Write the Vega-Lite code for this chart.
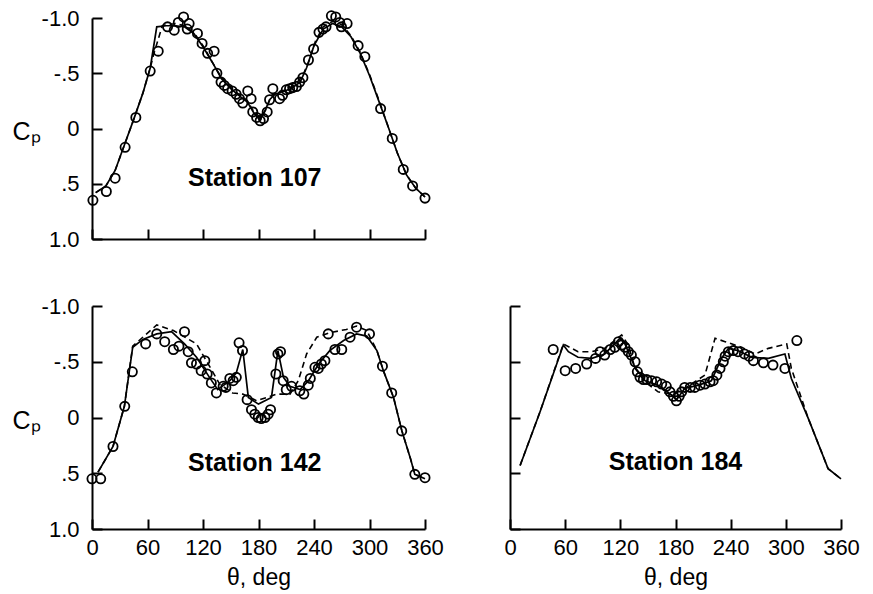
{
"$schema":"https://vega.github.io/schema/vega-lite/v6.json",
"padding":{"left":11,"top":7,"right":20,"bottom":2},
"bounds":"flush",
"spacing":67,
"config":{"view":{"stroke":null},"font":"Liberation Sans",
 "axis":{"grid":false,"domainColor":"black","domainWidth":2,"tickColor":"black","tickWidth":2,"labelColor":"black","labelFontSize":22,"labelFont":"Liberation Sans","titleFont":"Liberation Sans","titleFontWeight":"normal","titleColor":"black","titleFontSize":23}},
"datasets":{
"exp107":[{"theta":1,"cp":0.65},{"theta":15.5,"cp":0.57},{"theta":25,"cp":0.45},{"theta":35.8,"cp":0.17},{"theta":47.4,"cp":-0.1},{"theta":62.9,"cp":-0.52},{"theta":71.6,"cp":-0.7},{"theta":81.7,"cp":-0.92},{"theta":88.9,"cp":-0.89},{"theta":93.3,"cp":-0.96},{"theta":99,"cp":-1.01},{"theta":103,"cp":-0.9},{"theta":105,"cp":-0.95},{"theta":114,"cp":-0.86},{"theta":119,"cp":-0.77},{"theta":125,"cp":-0.68},{"theta":132,"cp":-0.7},{"theta":135,"cp":-0.5},{"theta":139.5,"cp":-0.42},{"theta":143,"cp":-0.39},{"theta":146.7,"cp":-0.36},{"theta":151.5,"cp":-0.34},{"theta":155.8,"cp":-0.31},{"theta":159.4,"cp":-0.27},{"theta":163,"cp":-0.23},{"theta":168.4,"cp":-0.34},{"theta":172,"cp":-0.27},{"theta":173.8,"cp":-0.15},{"theta":178,"cp":-0.1},{"theta":181.8,"cp":-0.07},{"theta":185.4,"cp":-0.09},{"theta":189.4,"cp":-0.15},{"theta":192,"cp":-0.26},{"theta":195.5,"cp":-0.36},{"theta":202.8,"cp":-0.27},{"theta":206,"cp":-0.3},{"theta":210,"cp":-0.35},{"theta":213.6,"cp":-0.36},{"theta":217,"cp":-0.37},{"theta":221,"cp":-0.38},{"theta":224.5,"cp":-0.42},{"theta":228,"cp":-0.46},{"theta":234,"cp":-0.62},{"theta":239.6,"cp":-0.72},{"theta":245.4,"cp":-0.87},{"theta":249.7,"cp":-0.9},{"theta":253,"cp":-0.92},{"theta":258.8,"cp":-1.02},{"theta":263.5,"cp":-1.01},{"theta":267.8,"cp":-0.96},{"theta":269.7,"cp":-0.92},{"theta":275.8,"cp":-0.95},{"theta":287.7,"cp":-0.75},{"theta":295,"cp":-0.65},{"theta":312,"cp":-0.18},{"theta":324.6,"cp":0.09},{"theta":336.5,"cp":0.37},{"theta":346.6,"cp":0.52},{"theta":360,"cp":0.63}],
"sol107":[{"theta":4,"cp":0.58},{"theta":15,"cp":0.52},{"theta":25,"cp":0.38},{"theta":35,"cp":0.15},{"theta":45,"cp":-0.08},{"theta":55,"cp":-0.32},{"theta":63,"cp":-0.55},{"theta":70,"cp":-0.92},{"theta":80,"cp":-0.93},{"theta":90,"cp":-0.93},{"theta":100,"cp":-0.92},{"theta":110,"cp":-0.86},{"theta":120,"cp":-0.74},{"theta":130,"cp":-0.6},{"theta":140,"cp":-0.45},{"theta":150,"cp":-0.36},{"theta":160,"cp":-0.29},{"theta":168,"cp":-0.24},{"theta":175,"cp":-0.14},{"theta":181,"cp":-0.08},{"theta":186,"cp":-0.14},{"theta":192,"cp":-0.26},{"theta":198,"cp":-0.31},{"theta":205,"cp":-0.33},{"theta":215,"cp":-0.36},{"theta":225,"cp":-0.42},{"theta":232,"cp":-0.55},{"theta":240,"cp":-0.75},{"theta":250,"cp":-0.9},{"theta":260,"cp":-0.95},{"theta":270,"cp":-0.92},{"theta":280,"cp":-0.83},{"theta":290,"cp":-0.68},{"theta":300,"cp":-0.48},{"theta":310,"cp":-0.25},{"theta":320,"cp":-0.02},{"theta":330,"cp":0.22},{"theta":340,"cp":0.42},{"theta":350,"cp":0.54},{"theta":360,"cp":0.62}],
"das107":[{"theta":4,"cp":0.58},{"theta":15,"cp":0.52},{"theta":25,"cp":0.38},{"theta":35,"cp":0.15},{"theta":45,"cp":-0.08},{"theta":55,"cp":-0.32},{"theta":63,"cp":-0.55},{"theta":67,"cp":-0.68},{"theta":76,"cp":-0.93},{"theta":90,"cp":-0.95},{"theta":100,"cp":-0.93},{"theta":110,"cp":-0.87},{"theta":120,"cp":-0.75},{"theta":130,"cp":-0.6},{"theta":140,"cp":-0.46},{"theta":150,"cp":-0.37},{"theta":160,"cp":-0.3},{"theta":168,"cp":-0.25},{"theta":175,"cp":-0.15},{"theta":182,"cp":-0.1},{"theta":188,"cp":-0.17},{"theta":194,"cp":-0.3},{"theta":200,"cp":-0.33},{"theta":210,"cp":-0.35},{"theta":220,"cp":-0.4},{"theta":228,"cp":-0.48},{"theta":235,"cp":-0.62},{"theta":242,"cp":-0.8},{"theta":250,"cp":-0.92},{"theta":260,"cp":-0.97},{"theta":270,"cp":-0.94},{"theta":280,"cp":-0.84},{"theta":290,"cp":-0.69},{"theta":300,"cp":-0.49},{"theta":310,"cp":-0.26},{"theta":320,"cp":-0.02},{"theta":330,"cp":0.22},{"theta":340,"cp":0.42},{"theta":350,"cp":0.54},{"theta":360,"cp":0.62}],
"exp142":[{"theta":0,"cp":0.55},{"theta":9.4,"cp":0.55},{"theta":22.7,"cp":0.26},{"theta":35.4,"cp":-0.1},{"theta":43.6,"cp":-0.41},{"theta":58,"cp":-0.66},{"theta":70,"cp":-0.75},{"theta":78.6,"cp":-0.68},{"theta":88,"cp":-0.61},{"theta":94,"cp":-0.64},{"theta":100,"cp":-0.77},{"theta":104,"cp":-0.59},{"theta":107.5,"cp":-0.49},{"theta":113,"cp":-0.48},{"theta":118,"cp":-0.42},{"theta":122,"cp":-0.51},{"theta":124.5,"cp":-0.39},{"theta":129,"cp":-0.31},{"theta":134.5,"cp":-0.22},{"theta":141.8,"cp":-0.28},{"theta":144.7,"cp":-0.27},{"theta":149,"cp":-0.35},{"theta":152.6,"cp":-0.33},{"theta":156,"cp":-0.36},{"theta":159,"cp":-0.67},{"theta":162.7,"cp":-0.6},{"theta":167.7,"cp":-0.16},{"theta":172.4,"cp":-0.07},{"theta":176,"cp":-0.03},{"theta":179.7,"cp":0},{"theta":183,"cp":0.01},{"theta":187,"cp":0},{"theta":190.5,"cp":-0.03},{"theta":193,"cp":-0.07},{"theta":198.8,"cp":-0.39},{"theta":201,"cp":-0.57},{"theta":203.8,"cp":-0.59},{"theta":206.7,"cp":-0.33},{"theta":210,"cp":-0.25},{"theta":215.7,"cp":-0.28},{"theta":224.7,"cp":-0.24},{"theta":229,"cp":-0.21},{"theta":233.8,"cp":-0.29},{"theta":236,"cp":-0.35},{"theta":241,"cp":-0.45},{"theta":244.6,"cp":-0.44},{"theta":248,"cp":-0.48},{"theta":251.8,"cp":-0.51},{"theta":255.4,"cp":-0.75},{"theta":262.6,"cp":-0.61},{"theta":270,"cp":-0.61},{"theta":279,"cp":-0.72},{"theta":286,"cp":-0.81},{"theta":300,"cp":-0.75},{"theta":314,"cp":-0.46},{"theta":324,"cp":-0.22},{"theta":334.8,"cp":0.12},{"theta":349,"cp":0.51},{"theta":360,"cp":0.54}],
"sol142":[{"theta":6.5,"cp":0.49},{"theta":22.7,"cp":0.26},{"theta":35,"cp":-0.1},{"theta":44,"cp":-0.63},{"theta":55,"cp":-0.7},{"theta":70,"cp":-0.75},{"theta":86,"cp":-0.77},{"theta":100,"cp":-0.66},{"theta":113,"cp":-0.54},{"theta":127,"cp":-0.36},{"theta":136,"cp":-0.25},{"theta":149,"cp":-0.33},{"theta":156,"cp":-0.4},{"theta":163,"cp":-0.61},{"theta":169,"cp":-0.18},{"theta":180,"cp":-0.12},{"theta":187,"cp":-0.15},{"theta":194,"cp":-0.18},{"theta":201,"cp":-0.6},{"theta":207,"cp":-0.36},{"theta":214,"cp":-0.28},{"theta":225,"cp":-0.25},{"theta":234,"cp":-0.33},{"theta":245,"cp":-0.48},{"theta":257,"cp":-0.6},{"theta":272,"cp":-0.69},{"theta":286,"cp":-0.75},{"theta":297,"cp":-0.73},{"theta":308,"cp":-0.6},{"theta":315,"cp":-0.42},{"theta":326,"cp":-0.18},{"theta":335,"cp":0.12},{"theta":344,"cp":0.36},{"theta":349,"cp":0.51},{"theta":360,"cp":0.55}],
"das142":[{"theta":6.5,"cp":0.49},{"theta":22.7,"cp":0.26},{"theta":35,"cp":-0.1},{"theta":44,"cp":-0.64},{"theta":70,"cp":-0.83},{"theta":88,"cp":-0.78},{"theta":113,"cp":-0.66},{"theta":127,"cp":-0.46},{"theta":138,"cp":-0.3},{"theta":152,"cp":-0.22},{"theta":163,"cp":-0.21},{"theta":178,"cp":-0.15},{"theta":189,"cp":-0.18},{"theta":200,"cp":-0.21},{"theta":214,"cp":-0.21},{"theta":223,"cp":-0.33},{"theta":232,"cp":-0.57},{"theta":243,"cp":-0.72},{"theta":257,"cp":-0.76},{"theta":275,"cp":-0.79},{"theta":286,"cp":-0.82},{"theta":297,"cp":-0.78},{"theta":308,"cp":-0.6},{"theta":315,"cp":-0.42},{"theta":326,"cp":-0.18},{"theta":335,"cp":0.12},{"theta":344,"cp":0.36},{"theta":349,"cp":0.51},{"theta":360,"cp":0.55}],
"exp184":[{"theta":47,"cp":-0.61},{"theta":60,"cp":-0.42},{"theta":71.4,"cp":-0.44},{"theta":83.4,"cp":-0.48},{"theta":93,"cp":-0.53},{"theta":98,"cp":-0.59},{"theta":103,"cp":-0.56},{"theta":109,"cp":-0.61},{"theta":114,"cp":-0.63},{"theta":118,"cp":-0.68},{"theta":121.5,"cp":-0.65},{"theta":125,"cp":-0.63},{"theta":128.7,"cp":-0.59},{"theta":132,"cp":-0.56},{"theta":136,"cp":-0.5},{"theta":138.5,"cp":-0.41},{"theta":141.4,"cp":-0.36},{"theta":145,"cp":-0.34},{"theta":148.7,"cp":-0.34},{"theta":154,"cp":-0.33},{"theta":159.5,"cp":-0.32},{"theta":165,"cp":-0.3},{"theta":170,"cp":-0.28},{"theta":174,"cp":-0.23},{"theta":177.7,"cp":-0.19},{"theta":181,"cp":-0.15},{"theta":184,"cp":-0.19},{"theta":186.7,"cp":-0.23},{"theta":190,"cp":-0.27},{"theta":196,"cp":-0.27},{"theta":201,"cp":-0.27},{"theta":206.7,"cp":-0.29},{"theta":212,"cp":-0.3},{"theta":217.5,"cp":-0.32},{"theta":221,"cp":-0.33},{"theta":225,"cp":-0.38},{"theta":228.4,"cp":-0.44},{"theta":232,"cp":-0.5},{"theta":234,"cp":-0.55},{"theta":237.5,"cp":-0.59},{"theta":243,"cp":-0.6},{"theta":248,"cp":-0.59},{"theta":255,"cp":-0.57},{"theta":260,"cp":-0.55},{"theta":264.7,"cp":-0.51},{"theta":275.6,"cp":-0.49},{"theta":286,"cp":-0.47},{"theta":299,"cp":-0.44},{"theta":312,"cp":-0.69}],
"sol184":[{"theta":11,"cp":0.43},{"theta":32.6,"cp":-0.05},{"theta":58,"cp":-0.65},{"theta":63.5,"cp":-0.59},{"theta":74,"cp":-0.54},{"theta":89,"cp":-0.53},{"theta":103,"cp":-0.57},{"theta":119.6,"cp":-0.71},{"theta":125,"cp":-0.66},{"theta":136,"cp":-0.45},{"theta":147,"cp":-0.33},{"theta":161,"cp":-0.29},{"theta":176,"cp":-0.2},{"theta":181,"cp":-0.16},{"theta":190,"cp":-0.26},{"theta":205,"cp":-0.29},{"theta":219,"cp":-0.33},{"theta":230,"cp":-0.53},{"theta":237.5,"cp":-0.62},{"theta":248,"cp":-0.6},{"theta":263,"cp":-0.54},{"theta":281,"cp":-0.53},{"theta":299,"cp":-0.57},{"theta":306,"cp":-0.35},{"theta":324.5,"cp":0.01},{"theta":346,"cp":0.46},{"theta":360,"cp":0.55}],
"das184":[{"theta":11,"cp":0.43},{"theta":32.6,"cp":-0.05},{"theta":58,"cp":-0.66},{"theta":74,"cp":-0.59},{"theta":89,"cp":-0.59},{"theta":103,"cp":-0.62},{"theta":121.5,"cp":-0.74},{"theta":128.7,"cp":-0.65},{"theta":136,"cp":-0.44},{"theta":147,"cp":-0.32},{"theta":161,"cp":-0.23},{"theta":176,"cp":-0.21},{"theta":190,"cp":-0.26},{"theta":212,"cp":-0.38},{"theta":223,"cp":-0.71},{"theta":234,"cp":-0.68},{"theta":252,"cp":-0.63},{"theta":266.5,"cp":-0.57},{"theta":281,"cp":-0.62},{"theta":301,"cp":-0.66},{"theta":306,"cp":-0.44},{"theta":324.5,"cp":0.01},{"theta":346,"cp":0.46},{"theta":360,"cp":0.55}]
},
"vconcat":[
{"width":333,"height":221,
 "layer":[
  {"data":{"name":"exp107"},"mark":{"type":"point","shape":"circle","filled":false,"color":"black","strokeWidth":1.8,"size":85,"opacity":1},
   "encoding":{
    "x":{"field":"theta","type":"quantitative","scale":{"domain":[0,360],"nice":false,"zero":false},"axis":{"values":[0,30,60,90,120,150,180,210,240,270,300,330,360],"labels":false,"title":null,"tickSize":{"condition":{"test":"datum.value % 60 === 0","value":-10},"value":-5}}},
    "y":{"field":"cp","type":"quantitative","scale":{"domain":[-1,1],"reverse":true,"nice":false,"zero":false},"axis":{"values":[-1,-0.75,-0.5,-0.25,0,0.25,0.5,0.75,1],"labelExpr":"datum.value === -1 ? '-1.0' : datum.value === -0.5 ? '-.5' : datum.value === 0 ? '0' : datum.value === 0.5 ? '.5' : datum.value === 1 ? '1.0' : ''","labelOverlap":false,"labelPadding":23,"tickSize":{"condition":{"test":"datum.value % 0.5 === 0","value":-10},"value":-5},"title":"Cₚ","titleAngle":0,"titleAlign":"center","titleBaseline":"middle","titleX":-66,"titleY":113,"titleFontSize":25}}}},
  {"data":{"name":"sol107"},"mark":{"type":"line","color":"black","strokeWidth":1.7},"encoding":{"x":{"field":"theta","type":"quantitative"},"y":{"field":"cp","type":"quantitative"}}},
  {"data":{"name":"das107"},"mark":{"type":"line","color":"black","strokeWidth":1.6,"strokeDash":[6,4]},"encoding":{"x":{"field":"theta","type":"quantitative"},"y":{"field":"cp","type":"quantitative"}}},
  {"data":{"values":[{"label":"Station 107"}]},"mark":{"type":"text","fontWeight":"bold","fontSize":25,"color":"black","font":"Liberation Sans"},"encoding":{"x":{"datum":176,"type":"quantitative"},"y":{"datum":0.45,"type":"quantitative"},"text":{"field":"label"}}}
 ]},
{"hconcat":[
 {"width":333,"height":223,
  "layer":[
   {"data":{"name":"exp142"},"mark":{"type":"point","shape":"circle","filled":false,"color":"black","strokeWidth":1.8,"size":85,"opacity":1},
    "encoding":{
     "x":{"field":"theta","type":"quantitative","scale":{"domain":[0,360],"nice":false,"zero":false},"axis":{"values":[0,30,60,90,120,150,180,210,240,270,300,330,360],"labelExpr":"datum.value % 60 === 0 ? datum.label : ''","labelFlush":false,"labelOverlap":false,"labelPadding":18,"title":"θ, deg","titlePadding":8,"tickSize":{"condition":{"test":"datum.value % 60 === 0","value":-10},"value":-5}}},
     "y":{"field":"cp","type":"quantitative","scale":{"domain":[-1,1],"reverse":true,"nice":false,"zero":false},"axis":{"values":[-1,-0.75,-0.5,-0.25,0,0.25,0.5,0.75,1],"labelExpr":"datum.value === -1 ? '-1.0' : datum.value === -0.5 ? '-.5' : datum.value === 0 ? '0' : datum.value === 0.5 ? '.5' : datum.value === 1 ? '1.0' : ''","labelOverlap":false,"labelPadding":23,"tickSize":{"condition":{"test":"datum.value % 0.5 === 0","value":-10},"value":-5},"title":"Cₚ","titleAngle":0,"titleAlign":"center","titleBaseline":"middle","titleX":-66,"titleY":114,"titleFontSize":25}}}},
   {"data":{"name":"sol142"},"mark":{"type":"line","color":"black","strokeWidth":1.7},"encoding":{"x":{"field":"theta","type":"quantitative"},"y":{"field":"cp","type":"quantitative"}}},
   {"data":{"name":"das142"},"mark":{"type":"line","color":"black","strokeWidth":1.6,"strokeDash":[6,4]},"encoding":{"x":{"field":"theta","type":"quantitative"},"y":{"field":"cp","type":"quantitative"}}},
   {"data":{"values":[{"label":"Station 142"}]},"mark":{"type":"text","fontWeight":"bold","fontSize":25,"color":"black","font":"Liberation Sans"},"encoding":{"x":{"datum":176,"type":"quantitative"},"y":{"datum":0.41,"type":"quantitative"},"text":{"field":"label"}}}
  ]},
 {"width":331,"height":223,
  "layer":[
   {"data":{"name":"exp184"},"mark":{"type":"point","shape":"circle","filled":false,"color":"black","strokeWidth":1.8,"size":85,"opacity":1},
    "encoding":{
     "x":{"field":"theta","type":"quantitative","scale":{"domain":[0,360],"nice":false,"zero":false},"axis":{"values":[0,30,60,90,120,150,180,210,240,270,300,330,360],"labelExpr":"datum.value % 60 === 0 ? datum.label : ''","labelFlush":false,"labelOverlap":false,"labelPadding":18,"title":"θ, deg","titlePadding":8,"tickSize":{"condition":{"test":"datum.value % 60 === 0","value":-10},"value":-5}}},
     "y":{"field":"cp","type":"quantitative","scale":{"domain":[-1,1],"reverse":true,"nice":false,"zero":false},"axis":{"values":[-1,-0.75,-0.5,-0.25,0,0.25,0.5,0.75,1],"labels":false,"title":null,"tickSize":{"condition":{"test":"datum.value % 0.5 === 0","value":-10},"value":-5}}}}},
   {"data":{"name":"sol184"},"mark":{"type":"line","color":"black","strokeWidth":1.7},"encoding":{"x":{"field":"theta","type":"quantitative"},"y":{"field":"cp","type":"quantitative"}}},
   {"data":{"name":"das184"},"mark":{"type":"line","color":"black","strokeWidth":1.6,"strokeDash":[6,4]},"encoding":{"x":{"field":"theta","type":"quantitative"},"y":{"field":"cp","type":"quantitative"}}},
   {"data":{"values":[{"label":"Station 184"}]},"mark":{"type":"text","fontWeight":"bold","fontSize":25,"color":"black","font":"Liberation Sans"},"encoding":{"x":{"datum":180,"type":"quantitative"},"y":{"datum":0.4,"type":"quantitative"},"text":{"field":"label"}}}
  ]}
 ],"spacing":85,"bounds":"flush"}
]
}
